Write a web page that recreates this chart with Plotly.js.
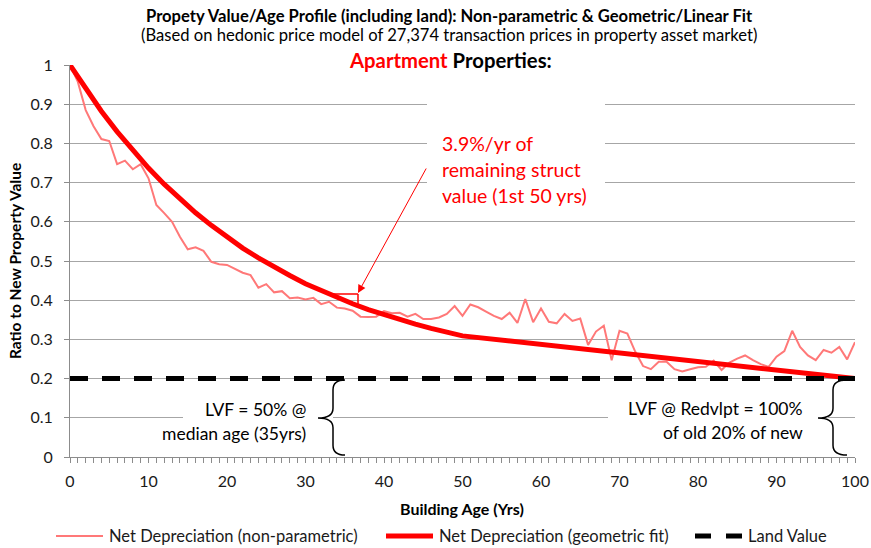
<!DOCTYPE html>
<html>
<head>
<meta charset="utf-8">
<script src="https://cdn.plot.ly/plotly-3.0.1.min.js"></script>
<style>html,body{margin:0;padding:0;background:#fff;}#chart{width:871px;height:548px;}</style>
</head>
<body>
<div id="chart"></div>
<script>
// ---- data ----
var ages = [0,1,2,3,4,5,6,7,8,9,10,11,12,13,14,15,16,17,18,19,20,21,22,23,24,25,26,27,28,29,30,31,32,33,34,35,36,37,38,39,40,41,42,43,44,45,46,47,48,49,50,51,52,53,54,55,56,57,58,59,60,61,62,63,64,65,66,67,68,69,70,71,72,73,74,75,76,77,78,79,80,81,82,83,84,85,86,87,88,89,90,91,92,93,94,95,96,97,98,99,100];
var nonParametric = [1.000,0.957,0.885,0.844,0.811,0.806,0.747,0.756,0.734,0.747,0.711,0.643,0.622,0.600,0.562,0.530,0.535,0.526,0.498,0.492,0.490,0.479,0.470,0.464,0.432,0.441,0.420,0.423,0.405,0.407,0.402,0.406,0.390,0.396,0.381,0.379,0.373,0.358,0.357,0.358,0.372,0.367,0.368,0.358,0.365,0.352,0.352,0.356,0.365,0.385,0.360,0.389,0.382,0.371,0.360,0.352,0.368,0.342,0.403,0.344,0.379,0.345,0.341,0.365,0.347,0.353,0.286,0.320,0.335,0.247,0.322,0.315,0.269,0.232,0.224,0.243,0.243,0.224,0.218,0.224,0.229,0.230,0.246,0.222,0.241,0.251,0.259,0.247,0.237,0.230,0.256,0.270,0.322,0.281,0.259,0.247,0.273,0.266,0.281,0.249,0.293];
var fitAges = [0,2,4,6,8,10,12,14,16,18,20,22,24,26,28,30,32,34,36,38,40,42,44,46,48,50,100];
var fitValues = [1.000,0.939,0.882,0.830,0.782,0.737,0.696,0.658,0.623,0.591,0.561,0.533,0.508,0.484,0.463,0.442,0.424,0.407,0.391,0.376,0.363,0.350,0.339,0.328,0.318,0.309,0.200];
var landAges = [0,100];
var landValues = [0.2,0.2];
var xTickVals = [0,10,20,30,40,50,60,70,80,90,100];
var xTickText = ['0','10','20','30','40','50','60','70','80','90','100'];
var yTickVals = [0,0.1,0.2,0.3,0.4,0.5,0.6,0.7,0.8,0.9,1];
var yTickText = ['0','0.1','0.2','0.3','0.4','0.5','0.6','0.7','0.8','0.9','1'];
var seriesNames = ['Net Depreciation (non-parametric)','Net Depreciation (geometric fit)','Land Value'];
var seriesColors = ['rgb(255,120,120)', '#ff0000', '#000000'];
var seriesWidths = [2, 5, 5];

// ---- layout helpers (pixel -> paper) ----
var L = 70, R = 855, T = 65, B = 457;
function px(x){ return (x - L) / (R - L); }
function py(y){ return (B - y) / (B - T); }
var FONT = 'Lato, "Open Sans", sans-serif';

var traces = [
  {x: ages, y: nonParametric, name: seriesNames[0], type: 'scatter', mode: 'lines',
   line: {color: seriesColors[0], width: seriesWidths[0]}},
  {x: fitAges, y: fitValues, name: seriesNames[1], type: 'scatter', mode: 'lines',
   line: {color: seriesColors[1], width: seriesWidths[1]}},
  {x: landAges, y: landValues, name: seriesNames[2], type: 'scatter', mode: 'lines',
   line: {color: seriesColors[2], width: seriesWidths[2], dash: '18px,14px'}}
];

function mask(x0, x1, y0, y1){
  return {type: 'rect', xref: 'paper', yref: 'paper', x0: px(x0), x1: px(x1), y0: py(y1), y1: py(y0),
          fillcolor: '#ffffff', line: {width: 0}, layer: 'above'};
}
function dx(p){ return (p - L) / 7.85; }
function dy(p){ return (B - p) / 392; }
function brace(stem, tip, end, top, mid, bot){
  var s = dx(stem), t = dx(tip), e = dx(end), a = dy(top), m = dy(mid), b = dy(bot);
  var r = 0.025;
  return 'M' + e + ',' + a + ' Q' + s + ',' + a + ' ' + s + ',' + (a - r) +
         ' L' + s + ',' + (m + r) + ' Q' + s + ',' + m + ' ' + t + ',' + m +
         ' Q' + s + ',' + m + ' ' + s + ',' + (m - r) +
         ' L' + s + ',' + (b + r) + ' Q' + s + ',' + b + ' ' + e + ',' + b;
}
function legLine(x0, x1, i){
  return {type: 'line', xref: 'paper', yref: 'paper', x0: px(x0), x1: px(x1), y0: py(536), y1: py(536),
          line: {color: seriesColors[i], width: seriesWidths[i]}, layer: 'above'};
}

var shapes = [
  mask(130, 760, 59, 71),
  mask(427, 605, 95, 210),
  mask(183, 333, 398, 440),
  mask(608, 828, 398, 440),
  {type: 'path', xref: 'x', yref: 'y', path: brace(333, 318, 345, 380, 418, 455), line: {color: '#000', width: 1.5}},
  {type: 'path', xref: 'x', yref: 'y', path: brace(833, 818, 847, 380, 418, 455), line: {color: '#000', width: 1.5}},
  {type: 'line', xref: 'x', yref: 'y', x0: dx(329), x1: dx(358), y0: dy(294), y1: dy(294), line: {color: '#ff0000', width: 1.5}},
  {type: 'line', xref: 'x', yref: 'y', x0: dx(358), x1: dx(358), y0: dy(294), y1: dy(305), line: {color: '#ff0000', width: 1.5}},
  // legend keys
  legLine(56, 103, 0),
  legLine(386, 433, 1),
  legLine(695, 711, 2),
  legLine(726, 742, 2)
];

function txt(text, x, y, size, color, anchor, extra){
  var a = {text: text, xref: 'paper', yref: 'paper', x: px(x), y: py(y), xanchor: anchor || 'center', yanchor: 'middle',
           showarrow: false, font: {family: FONT, size: size, color: color || '#000'}};
  if (extra) for (var k in extra) a[k] = extra[k];
  return a;
}

var annotations = [
  txt('<b>Propety Value/Age Profile (including land): Non-parametric &amp; Geometric/Linear Fit</b>', 449, 16, 16.6, '#000'),
  txt('(Based on hedonic price model of 27,374 transaction prices in property asset market)', 449, 35, 16.6, '#000'),
  txt('<b><span style="color:#ff0000">Apartment</span> Properties:</b>', 450, 60, 20.3, '#000'),
  txt('3.9%/yr of', 440, 143, 19.5, '#ff0000', 'left'),
  txt('remaining struct', 440, 169, 19.5, '#ff0000', 'left'),
  txt('value (1st 50 yrs)', 440, 195, 19.5, '#ff0000', 'left'),
  txt('LVF = 50% @', 308, 409, 17.5, '#000', 'right'),
  txt('median age (35yrs)', 308, 433, 17.5, '#000', 'right'),
  txt('LVF @ Redvlpt = 100%', 805, 408, 17.5, '#000', 'right'),
  txt('of old 20% of new', 805, 432, 17.5, '#000', 'right'),
  txt('<b>Building Age (Yrs)</b>', 462, 508, 16, '#000'),
  txt('<b>Ratio to New Property Value</b>', 15, 261, 15.5, '#000', 'center', {textangle: -90}),
  txt(seriesNames[0], 107, 536, 16.5, '#1a1a1a', 'left'),
  txt(seriesNames[1], 437, 536, 16.5, '#1a1a1a', 'left'),
  txt(seriesNames[2], 746, 536, 16.5, '#1a1a1a', 'left'),
  {x: dx(358), y: dy(293), xref: 'x', yref: 'y', text: '', showarrow: true, ax: 69, ay: -126,
   arrowhead: 2, arrowsize: 1.6, arrowwidth: 1, arrowcolor: '#ff0000', standoff: 0}
];

var layout = {
  width: 871, height: 548,
  margin: {l: L, r: 871 - R, t: T, b: 548 - B, autoexpand: false},
  paper_bgcolor: '#ffffff', plot_bgcolor: '#ffffff',
  font: {family: FONT, color: '#000'},
  showlegend: false,
  xaxis: {range: [0, 100], tickvals: xTickVals, ticktext: xTickText, showgrid: false, zeroline: false,
          showline: true, linecolor: '#8c8c8c', linewidth: 1, ticks: 'outside', ticklen: 5, tickcolor: '#8c8c8c',
          tickfont: {family: FONT, size: 16, color: '#1a1a1a'}, ticklabelstandoff: 5,
          minor: {dtick: 1, ticks: 'outside', ticklen: 5, tickcolor: '#8c8c8c', showgrid: false}},
  yaxis: {range: [0, 1], tickvals: yTickVals, ticktext: yTickText, showgrid: true, gridcolor: '#a6a6a6', gridwidth: 1,
          zeroline: false, showline: true, linecolor: '#8c8c8c', linewidth: 1, ticks: 'outside', ticklen: 5,
          tickcolor: '#8c8c8c', tickfont: {family: FONT, size: 16, color: '#1a1a1a'}, ticklabelstandoff: 8},
  shapes: shapes,
  annotations: annotations
};

Plotly.newPlot('chart', traces, layout, {displayModeBar: false, staticPlot: true});
</script>
</body>
</html>
